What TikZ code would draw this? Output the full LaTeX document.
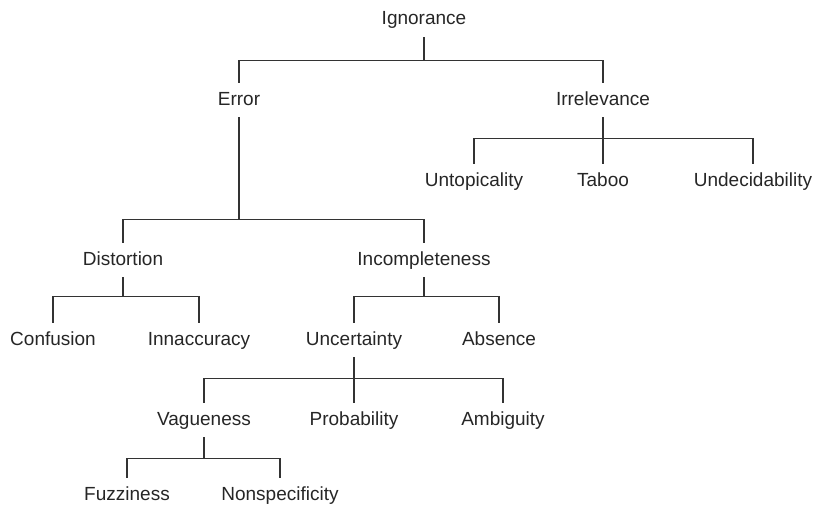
\documentclass[tikz,border=0pt]{standalone}
\usepackage{fontspec}
\setmainfont{Liberation Sans}
\usetikzlibrary{positioning}

\begin{document}
\begin{tikzpicture}[
    x=1pt, y=1pt,
    node distance=40pt and 60pt, on grid,
    term/.style={inner xsep=1pt, inner ysep=4pt, text height=7pt, text depth=2pt,
                 font=\fontsize{9.5}{11}\selectfont, text=black!85},
    branch/.style={draw=black!80, line width=0.7pt}
]
\useasboundingbox (0,0) rectangle (407,-254);

% top levels
\node[term] (ignorance) at (212,-10) {Ignorance};
\node[term, below left=40pt and 92.5pt of ignorance] (error) {Error};
\node[term, below right=40pt and 89.5pt of ignorance] (irrelevance) {Irrelevance};

\node[term, below left=40.5pt and 64.5pt of irrelevance] (untopicality) {Untopicality};
\node[term, below=40.5pt of irrelevance] (taboo) {Taboo};
\node[term, below right=40.5pt and 75pt of irrelevance] (undecidability) {Undecidability};

\node[term, below left=80pt and 58pt of error] (distortion) {Distortion};
\node[term, below right=80pt and 92.5pt of error] (incompleteness) {Incompleteness};

\node[term, below left=40pt and 35pt of distortion] (confusion) {Confusion};
\node[term, below right=40pt and 38pt of distortion] (innaccuracy) {Innaccuracy};
\node[term, below left=40pt and 35pt of incompleteness] (uncertainty) {Uncertainty};
\node[term, below right=40pt and 37.5pt of incompleteness] (absence) {Absence};

\node[term, below left=40pt and 75pt of uncertainty] (vagueness) {Vagueness};
\node[term, below=40pt of uncertainty] (probability) {Probability};
\node[term, below right=40pt and 74.5pt of uncertainty] (ambiguity) {Ambiguity};

\node[term, below left=37.5pt and 38.5pt of vagueness] (fuzziness) {Fuzziness};
\node[term, below right=37.5pt and 38pt of vagueness] (nonspecificity) {Nonspecificity};

% junctions
\coordinate[below=11.5pt of ignorance.south] (j-ignorance);
\coordinate[below=10.5pt of irrelevance.south] (j-irrelevance);
\coordinate[below=51pt of error.south] (j-error);
\coordinate[below=9.5pt of distortion.south] (j-distortion);
\coordinate[below=9.5pt of incompleteness.south] (j-incompleteness);
\coordinate[below=10.5pt of uncertainty.south] (j-uncertainty);
\coordinate[below=10.5pt of vagueness.south] (j-vagueness);

% branches
\foreach \p/\kids in {ignorance/{error,irrelevance},
                      irrelevance/{untopicality,taboo,undecidability},
                      error/{distortion,incompleteness},
                      distortion/{confusion,innaccuracy},
                      incompleteness/{uncertainty,absence},
                      uncertainty/{vagueness,probability,ambiguity},
                      vagueness/{fuzziness,nonspecificity}}{
    \draw[branch] (\p.south) -- (j-\p);
    \foreach \k in \kids
        \draw[branch] (j-\p) -| (\k.north);
}
\end{tikzpicture}
\end{document}
